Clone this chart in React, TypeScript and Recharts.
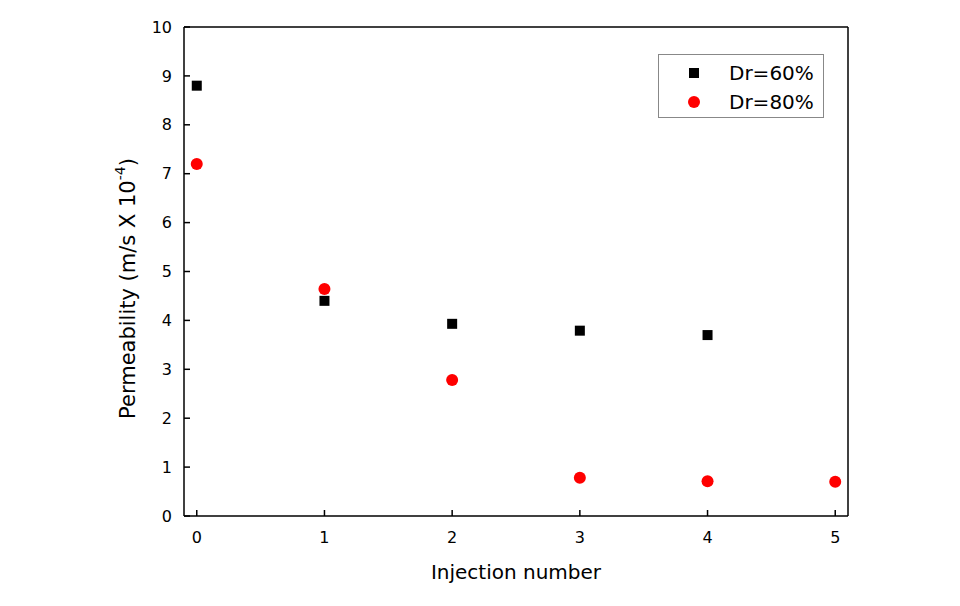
import React from "react";
import { ScatterChart, Scatter, XAxis, YAxis } from "recharts";

// values
const injections60 = [0, 1, 2, 3, 4];
const perm60 = [8.8, 4.4, 3.93, 3.79, 3.7];
const injections80 = [0, 1, 2, 3, 4, 5];
const perm80 = [7.2, 4.64, 2.78, 0.78, 0.71, 0.7];
const xTicks = [0, 1, 2, 3, 4, 5];
const yTicks = [0, 1, 2, 3, 4, 5, 6, 7, 8, 9, 10];

const dr60 = injections60.map((x, i) => ({ x, y: perm60[i] }));
const dr80 = injections80.map((x, i) => ({ x, y: perm80[i] }));

const FONT = "'DejaVu Sans', Arial, sans-serif";
const axisStyle = { stroke: "#000", strokeWidth: 1.5 };

const Square = (props: any) => (
  <rect x={props.cx - 5} y={props.cy - 5} width={10} height={10} fill="#000" />
);
const Dot = (props: any) => <circle cx={props.cx} cy={props.cy} r={6} fill="#ff0000" />;
const NoTick = () => <g />;

function YLabel({ viewBox }: any) {
  const x = 120;
  const y = viewBox.y + viewBox.height / 2 + 17;
  return (
    <text
      x={x}
      y={y}
      transform={`rotate(-90 ${x} ${y})`}
      textAnchor="middle"
      fontFamily={FONT}
      fontSize={21}
      fill="#000"
      dominantBaseline="central"
    >
      Permeability (m/s X 10
      <tspan fontSize={14} dy={-8}>-4</tspan>
      <tspan dy={8}>)</tspan>
    </text>
  );
}

function XLabel({ viewBox }: any) {
  return (
    <text
      x={viewBox.x + viewBox.width / 2}
      y={571}
      textAnchor="middle"
      fontFamily={FONT}
      fontSize={20}
      fill="#000"
    >
      Injection number
    </text>
  );
}

function LegendBox() {
  const row = (marker: React.ReactNode, label: string) => (
    <div style={{ display: "flex", alignItems: "center", height: 29 }}>
      <svg width={70} height={14} style={{ display: "block" }}>
        {marker}
      </svg>
      <span>{label}</span>
    </div>
  );
  return (
    <div
      style={{
        position: "absolute",
        left: 650,
        top: 46,
        border: "1px solid #888",
        width: 166,
        height: 64,
        boxSizing: "border-box",
        paddingTop: 3,
        fontFamily: FONT,
        fontSize: 20,
        color: "#000",
        background: "#fff",
      }}
    >
      {row(<rect x={30} y={2} width={10} height={10} fill="#000" />, "Dr=60%")}
      {row(<circle cx={35} cy={7} r={6} fill="#ff0000" />, "Dr=80%")}
    </div>
  );
}

export default function App() {
  return (
    <div style={{ position: "relative", width: 944, height: 590 }}>
      <ScatterChart
        width={944}
        height={590}
        margin={{ top: 9, right: 94, bottom: 22, left: 16 }}
      >
        <XAxis
          type="number"
          dataKey="x"
          domain={[-0.1, 5.1]}
          ticks={xTicks}
          allowDataOverflow
          height={60}
          axisLine={axisStyle}
          tickLine={axisStyle}
          tickSize={-6}
          tickMargin={22}
          tick={{ fontFamily: FONT, fontSize: 16, fill: "#000" }}
          label={<XLabel />}
        />
        <XAxis
          xAxisId="top"
          orientation="top"
          type="number"
          domain={[-0.1, 5.1]}
          ticks={xTicks}
          allowDataOverflow
          height={10}
          axisLine={axisStyle}
          tickLine={axisStyle}
          tickSize={-6}
          tick={<NoTick />}
        />
        <YAxis
          type="number"
          dataKey="y"
          domain={[0, 10]}
          ticks={yTicks}
          width={160}
          axisLine={axisStyle}
          tickLine={axisStyle}
          tickSize={-6}
          tickMargin={18}
          tick={{ fontFamily: FONT, fontSize: 16, fill: "#000" }}
          label={<YLabel />}
        />
        <YAxis
          yAxisId="right"
          orientation="right"
          type="number"
          domain={[0, 10]}
          ticks={yTicks}
          width={10}
          axisLine={axisStyle}
          tickLine={axisStyle}
          tickSize={-6}
          tick={<NoTick />}
        />
        <Scatter name="Dr=60%" data={dr60} shape={<Square />} isAnimationActive={false} />
        <Scatter name="Dr=80%" data={dr80} shape={<Dot />} isAnimationActive={false} />
      </ScatterChart>
      <LegendBox />
    </div>
  );
}
